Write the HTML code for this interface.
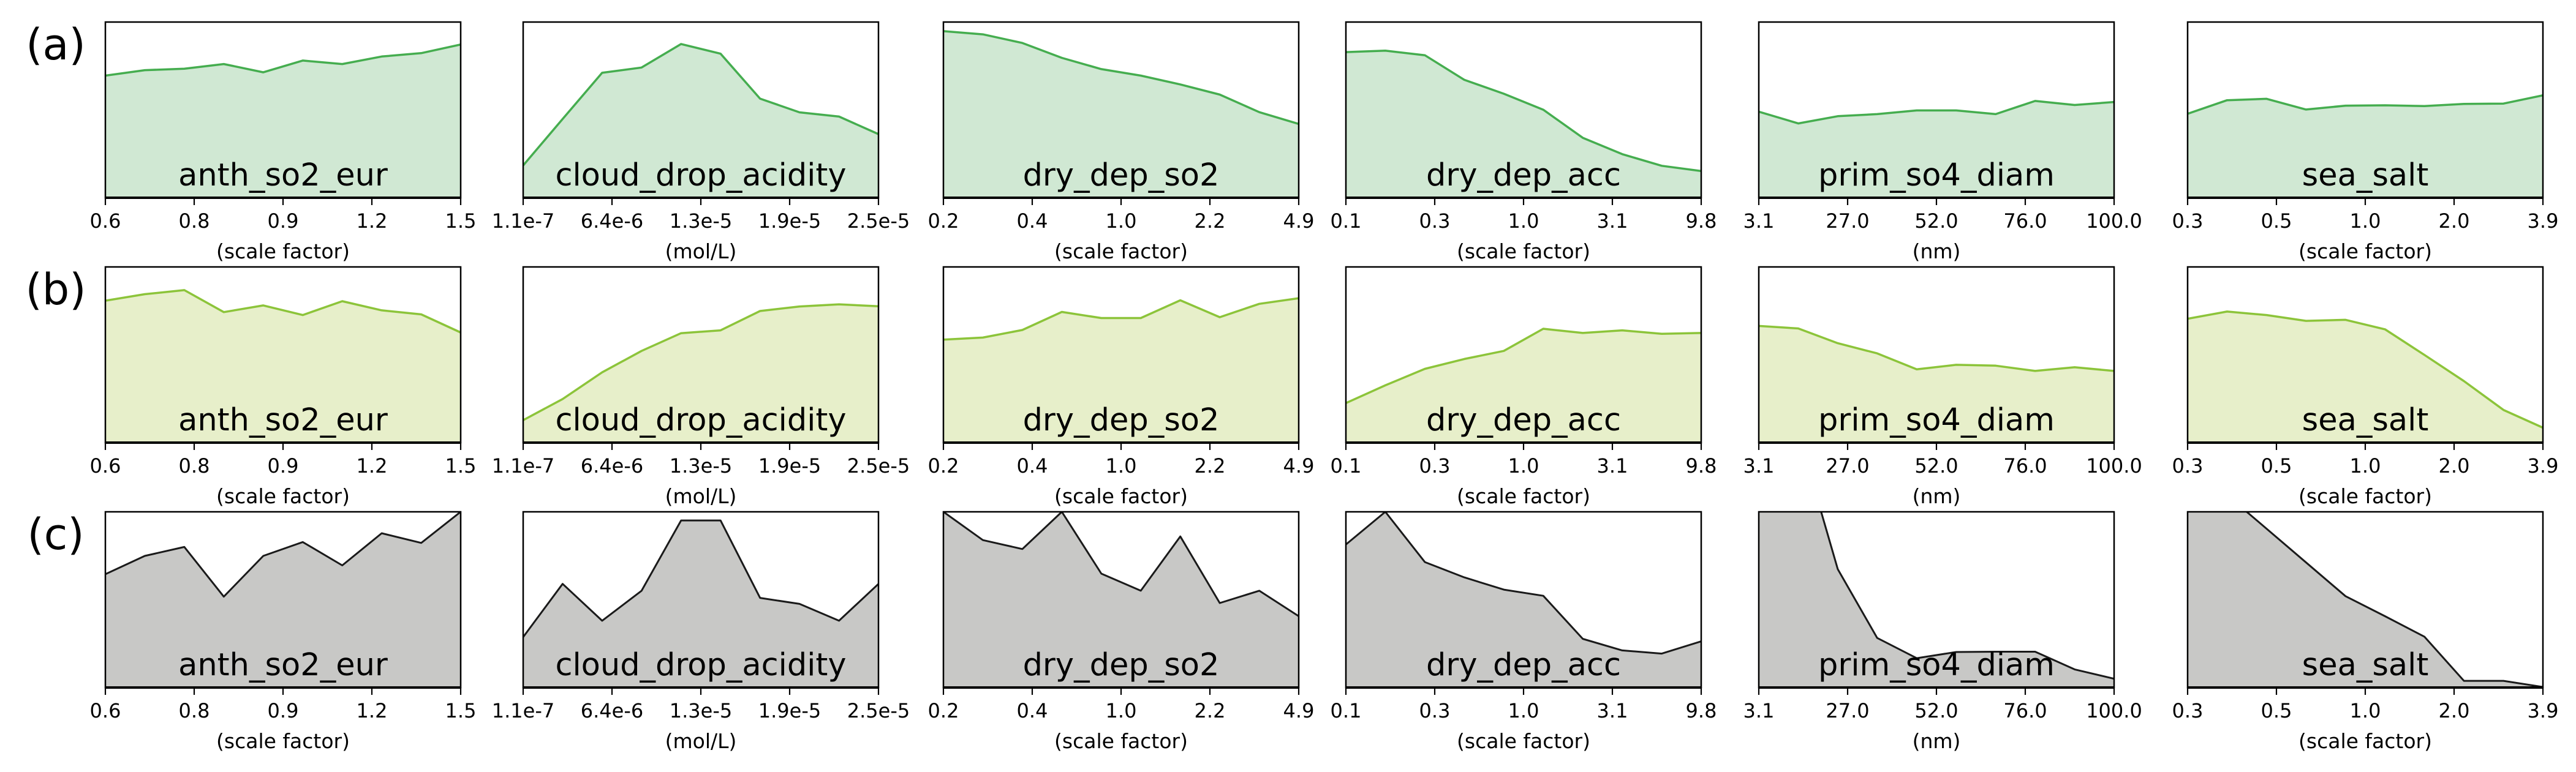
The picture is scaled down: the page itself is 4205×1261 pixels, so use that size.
<!DOCTYPE html>
<html><head><meta charset="utf-8">
<style>
html,body{margin:0;padding:0;background:#fff;}
svg{display:block;}
text{font-family:"DejaVu Sans","Liberation Sans",sans-serif;fill:#000;}
</style></head>
<body>
<svg id="fig" width="4205" height="1261" xmlns="http://www.w3.org/2000/svg"></svg>
<script>
const params = ["anth_so2_eur","cloud_drop_acidity","dry_dep_so2","dry_dep_acc","prim_so4_diam","sea_salt"];
const tickLabels = [
  ["0.6","0.8","0.9","1.2","1.5"],
  ["1.1e-7","6.4e-6","1.3e-5","1.9e-5","2.5e-5"],
  ["0.2","0.4","1.0","2.2","4.9"],
  ["0.1","0.3","1.0","3.1","9.8"],
  ["3.1","27.0","52.0","76.0","100.0"],
  ["0.3","0.5","1.0","2.0","3.9"]
];
const units = ["(scale factor)","(mol/L)","(scale factor)","(scale factor)","(nm)","(scale factor)"];
const rowLabels = ["(a)","(b)","(c)"];
const rowA = [
  [.695,.726,.734,.761,.714,.781,.761,.804,.823,.872],
  [.184,.448,.711,.741,.875,.82,.564,.486,.462,.362],
  [.948,.930,.881,.796,.732,.695,.645,.587,.487,.420],
  [.829,.837,.811,.671,.592,.501,.341,.248,.182,.152],
  [.49,.423,.464,.476,.497,.497,.476,.551,.528,.545],
  [.478,.555,.563,.502,.524,.526,.522,.534,.536,.583]
];
const rowB = [
  [.808,.845,.868,.743,.781,.726,.805,.753,.730,.627],
  [.128,.248,.400,.522,.623,.639,.749,.775,.787,.776],
  [.586,.598,.641,.744,.709,.709,.810,.714,.790,.822],
  [.225,.326,.420,.476,.522,.648,.624,.639,.619,.624],
  [.664,.650,.566,.508,.417,.443,.438,.408,.429,.408],
  [.705,.746,.726,.693,.699,.645,.499,.350,.186,.085]
];
const rowC = [
  [.645,.749,.800,.517,.749,.828,.695,.878,.823,1.0],
  [.287,.590,.380,.551,.951,.951,.510,.476,.380,.590],
  [1.0,.839,.788,1.0,.648,.551,.860,.481,.551,.406],
  [.814,1.0,.714,.627,.557,.522,.277,.211,.193,.263],
  [1.5,1.45,.674,.282,.167,.202,.204,.204,.103,.050],
  [1.2,1.095,.904,.712,.520,.406,.289,.038,.038,.003]
];
const rowsData = [rowA,rowB,rowC];

const NS="http://www.w3.org/2000/svg";
const svg=document.getElementById('fig');
const colLeft=[172,854,1540,2197,2871,3571];
const W=580, H=287;
const rowTop=[36,436,836];
const lineCol=["#45ad4f","#8cc43a","#1a1a1a"];
const fillCol=["#d0e8d3","#e7efca","#c8c8c6"];
function mk(tag,attrs,parent){const e=document.createElementNS(NS,tag);for(const k in attrs)e.setAttribute(k,attrs[k]);(parent||svg).appendChild(e);return e;}

const defs=mk('defs',{});
rowsData.forEach((rowVals,r)=>{
  const lbl=mk('text',{x:91,y:rowTop[r]+37+24,'font-size':70,'text-anchor':'middle'});
  
  
  lbl.textContent=rowLabels[r];
  params.forEach((p,c)=>{
    const x0=colLeft[c], y0=rowTop[r];
    const xs=i=>x0+i*W/(rowVals[c].length-1);
    const ys=v=>y0+H-v*H;
    const g=mk('g',{});
    
    
    const cid='clip'+r+'_'+c;
    const cp=mk('clipPath',{id:cid},defs);
    mk('rect',{x:x0,y:y0,width:W,height:H},cp);
    const vals=rowVals[c];
    let pts=vals.map((v,i)=>xs(i).toFixed(1)+','+ys(v).toFixed(1));
    const area=mk('polygon',{points:x0+','+(y0+H)+' '+pts.join(' ')+' '+(x0+W)+','+(y0+H),fill:fillCol[r],'clip-path':'url(#'+cid+')'},g);
    
    
    const line=mk('polyline',{points:pts.join(' '),fill:'none',stroke:lineCol[r],'stroke-width':r==2?3:3.5,'stroke-linejoin':'round','clip-path':'url(#'+cid+')'},g);
    
    
    const fr=mk('rect',{x:x0,y:y0,width:W,height:H,fill:'none',stroke:'#000','stroke-width':2.5},g);
    
    
    mk('line',{x1:x0,x2:x0+W,y1:y0+H,y2:y0+H,stroke:'#000','stroke-width':4},g);
    const t=mk('text',{x:x0+W/2,y:y0+H-20,'font-size':51,'text-anchor':'middle'},g);
    
    
    t.textContent=p;
    tickLabels[c].forEach((tl,k)=>{
      const tx=x0+k*W/4;
      mk('line',{x1:tx,x2:tx,y1:y0+H,y2:y0+H+12,stroke:'#000','stroke-width':2.2},g);
      const tt=mk('text',{x:tx,y:y0+H+49,'font-size':32,'text-anchor':'middle'},g);
      
      
      tt.textContent=tl;
    });
    const xl=mk('text',{x:x0+W/2,y:y0+H+99,'font-size':33,'text-anchor':'middle'},g);
    
    
    xl.textContent=units[c];
  });
});
</script>
</body></html>
